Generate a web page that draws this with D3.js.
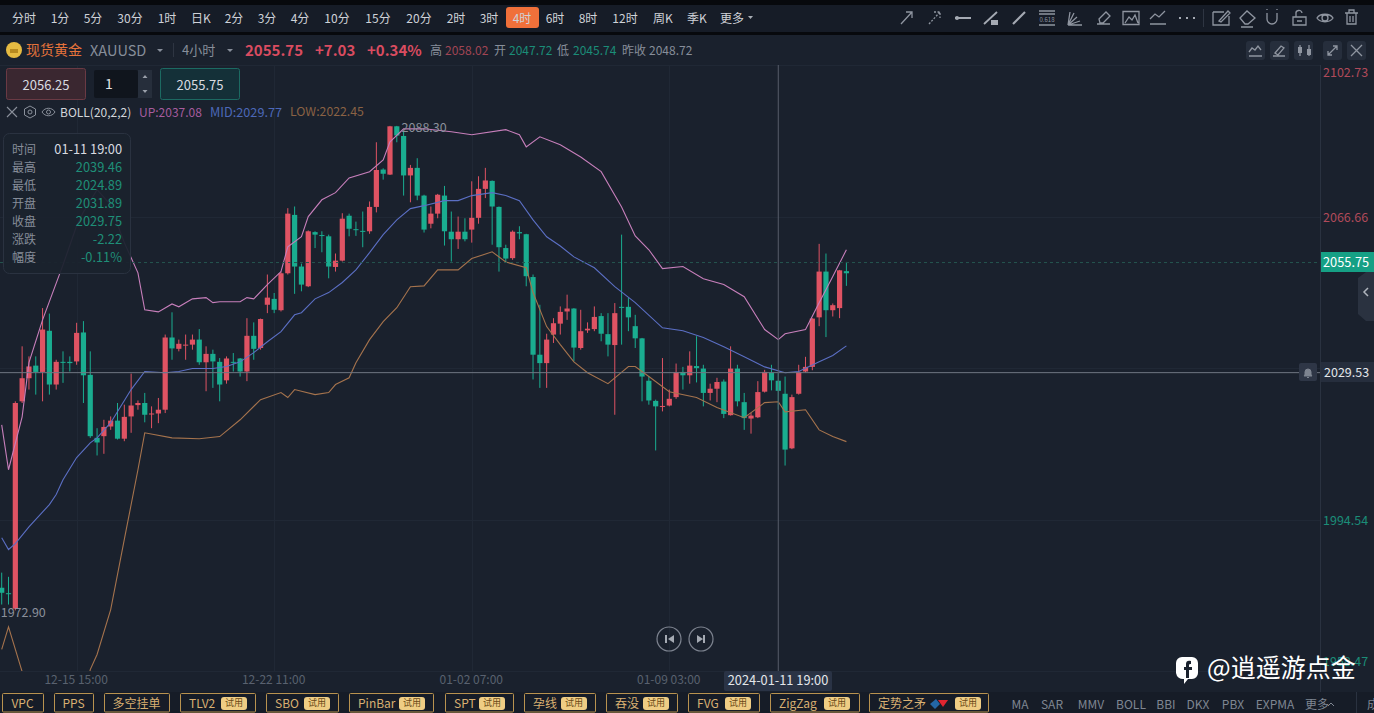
<!DOCTYPE html>
<html>
<head>
<meta charset="utf-8">
<script src="https://cdnjs.cloudflare.com/ajax/libs/d3/7.8.5/d3.min.js"></script>
<style>
  html, body { margin: 0; padding: 0; background: #1a212d; overflow: hidden; }
  text { font-family: "Noto Sans CJK SC", "Noto Sans", sans-serif; }
</style>
</head>
<body>
<script>
// candles, oldest first
var barOpen = [1978.3,1977.0,
  1973.3,2022.7,2028.2,2031.2,2029.7,2039.5,2026.7,2032.1,2032.1,2032.2,
  2039.1,2029.0,2014.0,2014.4,2016.7,2018.1,2013.8,2019.1,2021.8,2022.3,
  2019.6,2019.8,2020.7,2037.9,2035.2,2036.0,2036.2,2037.4,2032.0,2034.0,
  2032.1,2027.7,2032.1,2032.9,2029.8,2038.3,2035.4,2045.7,
  2047.1,2044.4,2053.2,2067.1,2054.8,2050.1,2063.0,2062.3,2062.0,2054.7,
  2056.2,2066.9,2063.7,2063.3,2063.2,2069.0,2077.9,2076.7,2088.2,2085.9,
  2076.5,2078.3,2071.7,2065.0,2067.4,2071.7,2063.1,2061.3,2063.1,2063.6,
  2066.4,2073.3,2075.2,2069.0,2059.2,2056.8,2063.0,2062.5,2052.3,2033.8,
  2031.8,
  2038.6,2041.2,2044.1,2044.8,2035.4,2039.6,2039.9,2043.0,2038.7,2036.1,
  2045.2,2045.2,2040.6,2037.7,2027.6,2022.8,2021.4,2021.7,2023.7,2029.7,
  2028.9,2031.1,2030.5,2024.7,2025.7,2027.4,2019.4,2030.5,2022.5,2018.6,
  2018.9,2025.0,2029.5,2027.6,2024.5,2011.5,2024.5,2029.8,2030.9,2042.7,
  2053.6,2044.4,2044.9,2053.7];
var barHigh = [1981.9,1980.9,
  2022.7,2035.8,2033.4,2033.4,2044.9,2043.6,2032.6,2034.6,2033.4,2041.4,
  2041.8,2034.6,2016.3,2018.3,2019.1,2022.3,2021.9,2029.3,2022.9,2024.7,
  2021.5,2023.5,2038.6,2043.9,2037.4,2038.6,2038.6,2039.9,2035.8,2035.0,
  2033.0,2033.4,2034.2,2033.0,2042.5,2041.5,2042.4,2052.9,
  2048.5,2053.6,2068.7,2069.1,2055.5,2063.4,2063.2,2063.2,2062.4,2057.9,
  2067.5,2067.4,2065.5,2067.9,2070.3,2084.4,2078.2,2088.3,2088.3,2087.0,
  2079.0,2080.6,2071.9,2069.1,2072.1,2074.0,2067.9,2066.7,2066.3,2075.1,
  2076.3,2078.3,2075.3,2069.1,2060.0,2063.4,2064.4,2062.6,2052.9,2045.7,
  2038.8,
  2042.5,2045.3,2048.1,2044.9,2044.5,2041.5,2045.3,2043.7,2043.7,2046.1,
  2062.4,2047.3,2043.3,2037.8,2028.6,2023.1,2033.0,2025.5,2031.7,2030.9,
  2034.6,2038.2,2031.4,2026.9,2028.3,2027.9,2035.8,2031.4,2024.7,2019.9,
  2027.5,2030.2,2031.4,2029.4,2028.6,2024.3,2031.4,2033.3,2042.5,2060.2,
  2057.9,2046.0,2054.0,2055.9];
var barLow = [1974.3,1974.3,
  1972.9,2022.3,2025.5,2024.3,2022.7,2024.3,2025.5,2027.1,2029.8,2031.4,
  2022.3,2014.0,2009.8,2010.2,2015.9,2013.6,2013.2,2015.2,2020.7,2017.7,
  2016.3,2017.5,2019.9,2032.6,2034.6,2032.6,2035.0,2031.4,2025.1,2025.9,
  2022.7,2026.9,2029.8,2028.6,2027.5,2032.6,2035.0,2043.7,
  2043.7,2044.1,2052.9,2048.3,2048.9,2049.9,2059.2,2058.2,2052.0,2053.6,
  2056.0,2062.0,2062.1,2059.4,2062.6,2067.7,2075.5,2076.6,2084.4,2071.7,
  2070.1,2070.6,2062.9,2063.9,2066.3,2059.8,2056.0,2059.0,2060.8,2060.5,
  2065.0,2071.1,2060.0,2053.6,2055.8,2056.4,2061.3,2050.1,2027.9,2025.9,
  2025.9,
  2036.6,2038.6,2042.1,2032.2,2035.0,2039.0,2039.4,2037.0,2033.4,2019.5,
  2036.2,2039.4,2035.4,2022.7,2021.9,2011.0,2020.3,2021.5,2023.3,2025.5,
  2026.9,2027.2,2021.5,2022.9,2022.5,2018.7,2019.3,2021.5,2015.9,2015.0,
  2018.7,2024.8,2025.3,2020.7,2007.4,2011.3,2024.3,2029.6,2030.1,2040.6,
  2038.0,2042.9,2042.5,2050.2];
var barClose = [1977.1,1976.8,
  2022.3,2028.2,2031.0,2029.7,2039.8,2026.7,2032.1,2031.9,2031.8,2039.0,
  2028.9,2014.4,2012.9,2016.6,2018.1,2013.8,2019.0,2021.7,2022.3,2019.5,
  2019.8,2020.7,2037.9,2035.3,2036.4,2036.2,2037.4,2032.0,2034.0,2032.2,
  2026.7,2032.9,2031.9,2029.8,2038.3,2035.2,2042.3,2047.4,
  2044.5,2053.2,2067.4,2054.8,2050.5,2063.2,2062.4,2062.1,2054.8,2056.2,
  2066.2,2063.8,2063.5,2063.1,2069.0,2077.8,2076.9,2088.2,2086.0,2076.5,
  2078.3,2071.7,2063.6,2067.4,2071.9,2063.2,2061.3,2063.1,2061.3,2066.4,
  2073.3,2075.3,2069.1,2059.4,2056.7,2063.1,2062.7,2052.5,2033.8,2031.8,
  2037.4,
  2041.3,2044.0,2044.8,2035.5,2039.4,2040.0,2042.8,2038.8,2036.2,2043.7,
  2045.1,2042.7,2037.7,2028.6,2022.9,2021.5,2021.6,2023.3,2029.6,2028.9,
  2031.2,2030.6,2024.7,2025.7,2027.3,2019.7,2030.5,2022.7,2018.7,2019.3,
  2024.9,2029.7,2027.7,2025.2,2011.2,2023.7,2029.7,2030.9,2042.4,2053.6,
  2044.4,2045.6,2053.9,2053.2];

var upBars = [0,1,3,4,6,9,11,12,14,16,17,18,20,21,23,25,26,28,30,31,32,35,36,37,39,41,42,44,45,47,49,51,54,56,57,59,62,66,69,74,76,77,79,82,85,88,91,93,95,97,100,103,106,109,112,114,115,118,120,122,124];
var upVals = [2017.1,2006.4,2019.0,2031.9,2042.1,2055.2,2064.5,2067.8,2073.1,2069.5,2064.8,2060.5,2053.3,2044.5,2044.0,2045.9,2045.2,2047.1,2047.4,2046.2,2046.4,2046.4,2047.4,2047.1,2050.5,2053.6,2059.5,2061.9,2066.7,2070.7,2072.4,2075.9,2077.4,2080.2,2084.5,2087.6,2087.6,2086.9,2086.2,2087.4,2086.2,2083.3,2085.7,2083.8,2080.9,2077.4,2069.0,2062.1,2058.8,2054.3,2054.8,2051.9,2050.5,2047.6,2039.8,2037.4,2038.8,2039.8,2046.2,2052.4,2058.8];
var midBars = [0,1,2,4,7,8,9,11,13,14,16,19,21,24,26,28,31,33,35,37,39,41,43,44,46,48,50,52,54,56,58,60,62,65,67,69,72,74,76,78,80,82,84,87,90,93,97,100,103,106,109,112,115,117,120,122,124];
var midVals = [1990.2,1987.4,1988.8,1992.8,1998.1,2000.5,2004.0,2009.3,2012.8,2014.0,2017.6,2025.5,2029.8,2029.5,2029.8,2030.5,2030.5,2031.0,2032.1,2034.3,2036.9,2039.3,2043.3,2043.8,2047.1,2048.6,2051.0,2054.0,2058.1,2062.4,2065.9,2068.6,2069.3,2070.5,2070.5,2071.7,2072.4,2071.7,2070.5,2065.9,2061.9,2059.7,2057.1,2054.5,2050.0,2046.2,2040.2,2039.5,2037.9,2035.7,2033.3,2030.9,2029.5,2029.8,2032.1,2033.6,2035.9];
var lowBars = [0,1,3,5,8,10,12,13,14,16,18,20,21,25,29,32,35,38,41,42,43,46,48,49,51,52,54,56,58,60,62,64,67,69,72,74,77,78,80,82,84,86,89,92,93,95,98,102,105,109,112,114,115,118,120,122,124];
var lowVals = [1963.6,1969.0,1958.3,1945.0,1938.0,1940.0,1950.0,1958.8,1962.4,1973.1,1989.8,2006.4,2015.2,2014.0,2013.8,2014.3,2018.3,2023.1,2024.8,2023.6,2025.5,2024.3,2024.8,2026.7,2028.3,2031.9,2037.4,2041.7,2045.0,2050.0,2050.2,2054.0,2054.0,2056.7,2058.3,2055.9,2054.5,2048.6,2040.5,2036.2,2032.1,2029.5,2026.9,2031.0,2031.0,2028.6,2025.0,2023.6,2021.2,2018.8,2022.4,2022.6,2020.2,2020.7,2015.9,2014.3,2013.1];

// axis labels
var timeTickBars = [11, 40, 69, 98];
var timeTickLabels = ['12-15 15:00', '12-22 11:00', '01-02 07:00', '01-09 03:00'];
var priceGrid = [2102.73, 2066.66, 2030.6, 1994.54, 1958.47];
var priceTicks = [2102.73, 2066.66, 1994.54, 1958.47];
var lastPrice = 2055.75, crossPrice = 2029.53, crossBar = 114;
var highLabel = 2088.30, highBar = 59, lowLabel = 1972.90, lowBar = 0;

// ui text
var periods = [['分时',24],['1分',60],['5分',93],['30分',130],['1时',167],['日K',201],['2分',234],['3分',267],['4分',300],['10分',337],['15分',378],['20分',419],['2时',456],['3时',489],['4时',522],['6时',555],['8时',588],['12时',625],['周K',663],['季K',697],['更多',732]];
var tipLabels = ['时间','最高','最低','开盘','收盘','涨跌','幅度'];
var tipValues = ['01-11 19:00','2039.46','2024.89','2031.89','2029.75','-2.22','-0.11%'];
// name, left, right, badge left
var tools = [['VPC',2,43],['PPS',54,93],['多空挂单',104,169],['TLV2',180,255,221],['SBO',266,338,304],['PinBar',349,433,399],['SPT',445,513,479],['孕线',524,595,561],['吞没',606,677,643],['FVG',688,759,725],['ZigZag',770,859,824],['定势之矛',869,988,955]];
var indicators = [['MA',1020],['SAR',1052],['MMV',1091],['BOLL',1131],['BBI',1166],['DKX',1198],['PBX',1233],['EXPMA',1275],['更多',1317]];

var red = '#df5363', green = '#1aad90', bg = '#1a212d', bar = '#161c27';
var W = 1374, H = 713;
var svg = d3.select('body').append('svg').attr('width', W).attr('height', H).style('display', 'block');

function txt(s, x, y, fill, size, anchor, weight) {
  return svg.append('text').text(s).attr('x', x).attr('y', y - 1).attr('fill', fill)
    .attr('font-size', size || 12).attr('text-anchor', anchor || 'start')
    .attr('font-weight', weight || 400).attr('dominant-baseline', 'central');
}
function box(x, y, w, h, fill, stroke, r) {
  return svg.append('rect').attr('x', x).attr('y', y).attr('width', w).attr('height', h)
    .attr('fill', fill).attr('stroke', stroke || 'none').attr('rx', r || 0);
}
function icon(d, x, y, color, width) {
  return svg.append('path').attr('d', d).attr('transform', 'translate(' + x + ',' + y + ')')
    .attr('fill', 'none').attr('stroke', color || '#8f95a0').attr('stroke-width', width || 1.3);
}

box(0, 0, W, H, bg);

// scales
var x = d3.scaleLinear().domain([0, 124]).range([1.7, 846.4]);
var y = d3.scaleLinear().domain([1958.47, 2102.73]).range([671, 65.3]);
var idx = d3.range(barOpen.length);

svg.append('clipPath').attr('id', 'plot').append('rect').attr('x', 0).attr('y', 65).attr('width', 1320).attr('height', 606);

// grid
var grid = svg.append('g').attr('stroke', '#202835').attr('stroke-width', 1);
grid.selectAll('.h').data(priceGrid).join('line').attr('x1', 0).attr('x2', 1320)
  .attr('y1', function(d) { return Math.round(y(d)) + 0.5; }).attr('y2', function(d) { return Math.round(y(d)) + 0.5; });
grid.selectAll('.v').data(timeTickBars).join('line').attr('y1', 65).attr('y2', 671)
  .attr('x1', function(d) { return Math.round(x(d)) + 0.5; }).attr('x2', function(d) { return Math.round(x(d)) + 0.5; });
svg.append('line').attr('x1', 1320.5).attr('x2', 1320.5).attr('y1', 65).attr('y2', 692).attr('stroke', '#2a3240');

// candles
var plot = svg.append('g').attr('clip-path', 'url(#plot)');
function col(i) { return barClose[i] >= barOpen[i] ? red : green; }
plot.selectAll('.wick').data(idx).join('line')
  .attr('x1', function(i) { return x(i); }).attr('x2', function(i) { return x(i); })
  .attr('y1', function(i) { return y(barHigh[i]); }).attr('y2', function(i) { return y(barLow[i]); })
  .attr('stroke', col).attr('stroke-width', 1);
plot.selectAll('.body').data(idx).join('rect')
  .attr('x', function(i) { return x(i) - 2.6; }).attr('width', 5.2)
  .attr('y', function(i) { return y(Math.max(barOpen[i], barClose[i])); })
  .attr('height', function(i) { return Math.max(1, Math.abs(y(barOpen[i]) - y(barClose[i]))); })
  .attr('fill', col);

// boll
function bollLine(bars, vals, color) {
  var line = d3.line().x(function(d) { return x(d); }).y(function(d, i) { return y(vals[i]); });
  plot.append('path').attr('d', line(bars)).attr('fill', 'none').attr('stroke', color).attr('stroke-width', 1.1);
}
bollLine(upBars, upVals, '#c77fbb');
bollLine(midBars, midVals, '#5b6fc4');
bollLine(lowBars, lowVals, '#a5734d');

// last price + crosshair
svg.append('line').attr('x1', 0).attr('x2', 1320).attr('y1', y(lastPrice)).attr('y2', y(lastPrice))
  .attr('stroke', '#25564f').attr('stroke-dasharray', '3,3');
svg.append('line').attr('x1', 0).attr('x2', 1320).attr('y1', y(crossPrice)).attr('y2', y(crossPrice)).attr('stroke', '#6f7682');
svg.append('line').attr('x1', x(crossBar)).attr('x2', x(crossBar)).attr('y1', 65).attr('y2', 671).attr('stroke', '#565d6a');

txt(highLabel.toFixed(2), x(highBar) - 2, y(highLabel) + 2, '#8a909b', 12.5);
txt(lowLabel.toFixed(2), x(lowBar) - 1, y(lowLabel) + 2, '#8a909b', 12.5);

// time axis
var xAxis = d3.axisBottom(x).tickValues(timeTickBars).tickSize(0).tickPadding(0)
  .tickFormat(function(d, i) { return timeTickLabels[i]; });
var gx = svg.append('g').attr('transform', 'translate(-1,673)').call(xAxis);
gx.select('.domain').remove();
gx.selectAll('text').attr('fill', '#59616f').attr('font-size', 12).attr('dy', 0).attr('y', 5).attr('dominant-baseline', 'central')
  .style('font-family', '"Noto Sans CJK SC"');
box(724, 671, 108, 20, '#2a3345', null, 2);
txt('2024-01-11 19:00', 778, 680, '#e3e6ea', 12.8, 'middle');

// price axis
var yAxis = d3.axisRight(y).tickValues(priceTicks).tickSize(0).tickPadding(3)
  .tickFormat(function(d) { return d.toFixed(2); });
var gy = svg.append('g').attr('transform', 'translate(1320,0)').call(yAxis);
gy.select('.domain').remove();
gy.selectAll('text').attr('font-size', 12.5).attr('dy', 0).attr('dominant-baseline', 'central')
  .style('font-family', '"Noto Sans CJK SC"')
  .attr('fill', function(d) { return d > lastPrice ? '#b04a5a' : '#1b8d78'; });
gy.selectAll('.tick').attr('transform', function(d) {
  var p = y(d);
  if (p < 71) p = 71;
  if (p > 660) p = 660;
  return 'translate(0,' + p + ')';
});

box(1321, 252, 53, 20, '#16a085');
txt(lastPrice.toFixed(2), 1323, 262, '#fff', 12.8);
box(1321, 362, 53, 20, '#262e3d');
txt(crossPrice.toFixed(2), 1324, 372, '#e3e6ea', 12.5);
box(1299, 363, 18, 18, '#2e3646', null, 2);
svg.append('path').attr('d', 'M1304 376h8c-1-1-1-2-1-4a3 3 0 0 0-6 0c0 2 0 3-1 4zM1307 377.5h2').attr('fill', '#7d8490').attr('stroke', '#7d8490');
svg.append('path').attr('d', 'M1374 272h-8l-8 6v36l8 7h8z').attr('fill', '#2a3240');
icon('M4 -4l-4 4l4 4', 1364, 292, '#b0b5bd', 1.5);

// replay buttons
[669, 701].forEach(function(cx, k) {
  svg.append('circle').attr('cx', cx).attr('cy', 639).attr('r', 12).attr('fill', 'none').attr('stroke', '#7d838f').attr('stroke-width', 1.2);
  svg.append('path').attr('fill', '#a5aab3').attr('d', k === 0 ? 'M665 635h2v8h-2zM674 635v8l-6-4z' : 'M697 635v8l6-4zM703 635h2v8h-2z');
});

// tooltip
box(3.5, 133.5, 127, 140, '#1b222e', '#2a3240', 6).attr('fill-opacity', 0.94);
tipLabels.forEach(function(s, i) {
  var yy = 149 + i * 18;
  txt(s, 12, yy, '#868d99', 12);
  txt(tipValues[i], 122, yy, i === 0 ? '#d8dbe0' : '#1f8f78', 12.8, 'end');
});

// top bars
box(0, 0, W, 5, '#07090d');
box(0, 5, W, 27, bar);
box(0, 32, W, 3, '#07090d');
box(0, 35, W, 30, '#1a212d');
box(506, 7, 33, 21, '#f0703a', null, 3);
periods.forEach(function(p) { txt(p[0], p[1], 18, '#cfd2d8', 12, 'middle'); });
svg.append('path').attr('d', 'M748 16h5l-2.500 3z').attr('fill', '#a9aeb6');

// drawing tools
icon('M901 24L912 12M906 12h6v6', 0, 0);
icon('M929 24l11-12M934 12h6v6', 0, 0).attr('stroke-dasharray', '2,1.5');
icon('M955 18h16', 0, 0, '#a5aab3', 2); svg.append('circle').attr('cx', 957).attr('cy', 18).attr('r', 2).attr('fill', '#a5aab3');
icon('M984 24l13-12', 0, 0, '#a5aab3', 1.8); box(991, 20, 7, 5, '#a5aab3');
icon('M1013 24l12-12', 0, 0, '#a5aab3', 2.2);
icon('M1039 11h16M1039 14h16M1039 25h16', 0, 0, '#8f95a0', 1.6);
txt('0.618', 1047, 20, '#8f95a0', 6, 'middle');
icon('M1068 25l2-13M1068 25l6-12M1068 25l9-8M1068 25l12-4M1068 25h14', 0, 0);
icon('M1097 24h13M1099 19l7-7l4 4l-7 7h-3z', 0, 0);
icon('M1123 11.500h16v13h-16zM1125 23l4-6l3 3l3-5l3 8', 0, 0);
icon('M1150 19l5-5l4 3l6-6M1150 24h16', 0, 0);
icon('M1179 18h2M1186 18h2M1193 18h2', 0, 0, '#a5aab3', 2.2);
svg.append('line').attr('x1', 1203.5).attr('x2', 1203.5).attr('y1', 9).attr('y2', 27).attr('stroke', '#2e3542');
icon('M1213 12h11M1229 16v9h-16v-13M1219 21l9-10l2 2l-9 9z', 0, 0);
icon('M1240 18l7-7l8 7l-7 6h-3zM1241 27h12', 0, 0);
icon('M1267 13v6a5 5 0 0 0 10 0v-6M1267 9v1M1277 9v1', 0, 0);
icon('M1293 17h13v8h-13zM1296 17v-3a3 3 0 0 1 6-1M1297 21h5', 0, 0);
icon('M1317 18c3-5 13-5 16 0c-3 5-13 5-16 0zM1328 18a3 3 0 1 1-6 0a3 3 0 1 1 6 0z', 0, 0);
icon('M1345 13h13M1347 13v11h9v-11M1349 13v-3h5v3M1350 16v6M1353 16v6', 0, 0);

// quote row
svg.append('circle').attr('cx', 14).attr('cy', 50).attr('r', 8).attr('fill', '#e6bb42');
box(10, 49, 8, 4, '#b78a1f');
txt('现货黄金', 26, 50, '#e5733b', 14);
txt('XAUUSD', 90, 50, '#878e9a', 14.5);
svg.append('path').attr('d', 'M157 49h6l-3 3z M227 49h6l-3 3z').attr('fill', '#878e9a');
svg.append('line').attr('x1', 173.5).attr('x2', 173.5).attr('y1', 43).attr('y2', 57).attr('stroke', '#2e3542');
txt('4小时', 182, 50, '#878e9a', 13);
txt('2055.75', 245, 50, '#d94c60', 15, 'start', 700);
txt('+7.03', 315, 50, '#d94c60', 15, 'start', 700);
txt('+0.34%', 367, 50, '#d94c60', 15, 'start', 700);
txt('高', 430, 50, '#878e9a', 12);
txt('2058.02', 445, 50, '#a14554', 12);
txt('开', 494, 50, '#878e9a', 12);
txt('2047.72', 509, 50, '#1b8d78', 12);
txt('低', 557, 50, '#878e9a', 12);
txt('2045.74', 573, 50, '#1b8d78', 12);
txt('昨收', 622, 50, '#878e9a', 12);
txt('2048.72', 649, 50, '#878e9a', 12);

[1246, 1270, 1294, 1323, 1347].forEach(function(bx) { box(bx, 41, 19, 19, '#262e3c', null, 3); });
icon('M1249 52l3-4l3 2l3-4l3 4M1249 56h13', 0, 0);
icon('M1273 56h12M1275 53l6-7l3 2l-6 7z', 0, 0);
icon('M1300 45v11M1309 45v11', 0, 0); box(1298, 47, 4, 6, '#8f95a0'); box(1307, 49, 4, 6, '#8f95a0');
icon('M1328 55l9-9M1333 46h4v4M1328 51v4h4', 0, 0);
icon('M1351 45l11 11M1362 45l-11 11', 0, 0);

// trade boxes
box(6.5, 68.5, 79, 31, '#3a2730', '#6a3a44', 2);
txt('2056.25', 46, 85, '#d8dbe0', 13, 'middle');
box(94, 70, 44, 28, '#10151d', null, 2);
txt('1', 105, 84, '#e3e6ea', 14);
box(138, 70, 14, 28, '#262e3b');
svg.append('path').attr('d', 'M142.500 78l2.500-3l2.500 3zM142.500 90l2.500 3l2.500-3z').attr('fill', '#9aa0aa');
box(160.5, 68.5, 79, 31, '#143038', '#1c6a62', 2);
txt('2055.75', 200, 85, '#d8dbe0', 13, 'middle');

// indicator row
icon('M7 107l10 10M17 107l-10 10', 0, 0, '#8a909b', 1.1);
icon('M30 106l5.500 3v6l-5.500 3l-5.500-3v-6zM32 112a2 2 0 1 1-4 0a2 2 0 1 1 4 0z', 0, 0, '#8a909b', 1);
icon('M42 112c3-5 10-5 13 0c-3 5-10 5-13 0zM50.500 112a2 2 0 1 1-4 0a2 2 0 1 1 4 0z', 0, 0, '#8a909b', 1);
txt('BOLL(20,2,2)', 60, 112, '#d3d6db', 12);
txt('UP:2037.08', 139, 112, '#a65c9e', 12);
txt('MID:2029.77', 210, 112, '#4c68b8', 12.7);
txt('LOW:2022.45', 290, 112, '#8a6244', 12.3);

// bottom tool buttons
box(0, 692, W, 21, '#161c27');
tools.forEach(function(t) {
  box(t[1] + 0.5, 693.5, t[2] - t[1], 18.5, '#161c27', '#b8924f', 1);
  if (t[3]) {
    txt(t[0], t[1] + 9, 703, '#d9b072', 12);
    box(t[3], 697, 26, 13, '#efcd84', null, 3);
    txt('试用', t[3] + 13, 703, '#6b4a16', 9, 'middle');
  } else {
    txt(t[0], (t[1] + t[2]) / 2, 703, '#d9b072', 12, 'middle');
  }
});
svg.append('path').attr('d', 'M930 704l6-5l4 5l-5 5z').attr('fill', '#2467a8');
svg.append('path').attr('d', 'M938 700h10l-5 7z').attr('fill', '#e02530');
indicators.forEach(function(t) { txt(t[0], t[1], 704, '#7f8692', 12, 'middle'); });
icon('M1328 706l3-3l3 3', 0, 0, '#7f8692', 1);
svg.append('line').attr('x1', 1356.5).attr('x2', 1356.5).attr('y1', 692).attr('y2', 713).attr('stroke', '#2a3240');
txt('成', 1367, 704, '#7f8692', 12);

// watermark
svg.append('path').attr('d', 'M1182 657h10a6 6 0 0 1 6 6v10a6 6 0 0 1-6 6h-4l-4 5v-5a7 7 0 0 1-8-6v-10a6 6 0 0 1 6-6z').attr('fill', '#fff');
svg.append('path').attr('d', 'M1191 661c-3-1-5 0-5 3v3h-2v3h2v8h3v-8h3v-3h-3v-2c0-1 1-1 2-1z').attr('fill', '#1a212d');
txt('@逍遥游点金', 1207, 667, '#fff', 25);
</script>
</body>
</html>
